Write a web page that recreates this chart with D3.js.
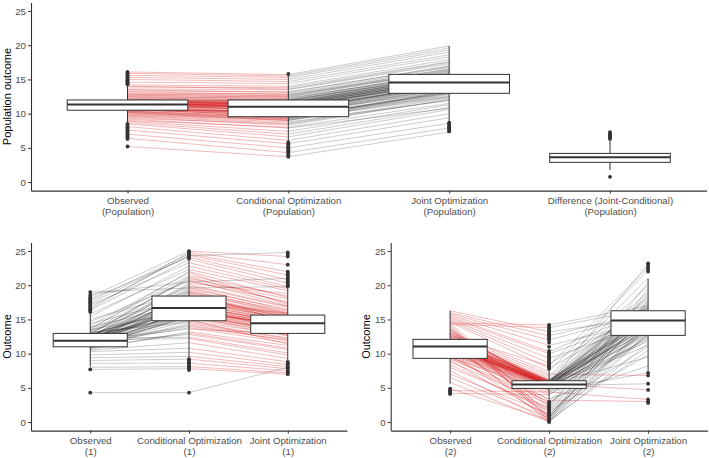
<!DOCTYPE html>
<html><head><meta charset="utf-8">
<script src="https://cdn.jsdelivr.net/npm/d3@7"></script>
<style>body{margin:0;background:#fff} text{font-family:"Liberation Sans",Arial,sans-serif}</style>
</head><body><svg id="c" width="709" height="458"></svg>
<script>
// ---------- Top panel (Population) ----------
const popCategories = ["Observed|(Population)", "Conditional Optimization|(Population)", "Joint Optimization|(Population)", "Difference (Joint-Conditional)|(Population)"];
const popObserved = [5.2,6.4,7.0,7.6,8.1,8.5,8.9,9.2,9.5,9.7,9.9,10.1,10.2,10.3,10.4,10.9,10.6,10.65,10.7,10.8,10.85,10.5,11.0,11.05,11.1,11.15,11.2,11.25,11.3,11.35,11.4,11.45,11.5,11.55,11.6,11.65,11.7,11.75,11.8,11.85,11.9,11.95,12.0,11.5,11.7,12.2,12.4,12.6,12.8,13.0,13.3,13.6,13.9,14.2,14.6,15.0,15.3,15.6,15.9,16.1,
  9.0,9.3,9.6,9.8,10.0,10.2,10.35,10.45,10.55,10.75,10.95,11.05,11.2,11.3,11.4,11.5,11.6,11.7,11.8,11.9,12.0,12.1,12.3,12.5,12.7,12.9,13.2,13.5,14.0,8.7];
const popConditional = [3.7,4.3,5.0,5.6,6.1,6.6,7.4,7.9,8.3,8.8,9.1,9.3,9.0,9.6,9.5,9.8,9.7,10.1,9.55,10.3,10.0,10.4,10.6,10.2,10.7,10.9,10.5,11.0,10.8,11.1,11.0,11.2,11.3,11.1,11.4,11.5,11.3,11.6,11.7,11.5,11.8,11.9,12.0,10.9,11.4,12.1,12.3,12.5,12.7,12.9,13.2,13.5,13.8,14.0,14.4,14.7,15.0,15.3,15.5,15.7,
  8.0,8.5,8.6,9.0,9.2,9.4,9.3,9.9,10.0,10.2,10.1,10.5,10.6,10.9,10.8,11.2,11.0,11.5,11.3,11.6,11.7,11.9,12.0,12.2,12.4,12.6,12.8,13.1,13.6,7.0];
const popJoint = [7.3,7.9,8.6,9.4,10.0,10.6,11.3,10.8,12.1,11.9,12.4,12.9,13.3,12.6,13.0,13.5,13.1,13.8,13.0,14.0,13.6,14.2,13.9,14.4,14.1,14.6,14.3,14.8,14.5,15.0,14.6,14.9,15.2,14.7,15.1,15.4,14.8,15.5,15.3,15.0,15.7,15.6,15.9,14.5,15.2,16.1,15.8,16.4,16.2,16.8,16.9,17.3,17.6,17.9,18.3,18.6,19.0,19.3,19.6,19.9,
  11.5,12.0,12.3,12.8,12.5,13.2,13.4,13.7,13.3,14.0,13.8,14.4,14.2,14.7,14.3,15.0,14.6,15.3,14.9,15.4,15.6,15.8,15.5,16.0,16.3,16.6,16.5,17.0,17.5,10.9];
const popWhiskerLow = [8.3, 6.0, 8.8, 1.75];
const popQ1 = [10.5, 9.55, 12.97, 2.88];
const popMedian = [11.35, 11.0, 14.57, 3.61];
const popQ3 = [12.0, 12.0, 15.74, 4.19];
const popWhiskerHigh = [14.2, 15.6, 19.9, 6.1];
const popOutliers = [
  [14.3,14.4,14.6,14.7,14.9,15.0,15.2,15.3,15.5,15.6,15.8,15.9,16.1,8.5,8.4,8.2,8.0,7.9,7.7,7.5,7.4,7.2,7.0,6.9,6.7,6.5,6.3,5.2],
  [15.8,5.8,5.6,5.5,5.3,5.1,5.0,4.8,4.6,4.5,4.3,4.1,3.9,3.7],
  [8.7,8.5,8.4,8.2,8.0,7.9,7.7,7.5,7.4],
  [6.3,6.5,6.6,6.8,6.9,7.1,7.3,0.77]
];

// ---------- Bottom-left panel (1) ----------
const cat1 = ["Observed|(1)", "Conditional Optimization|(1)", "Joint Optimization|(1)"];
const obs1 = [4.3,7.7,8.0,8.6,9.0,9.4,9.8,10.3,10.5,12.3,10.8,11.9,11.0,13.1,11.2,11.6,12.8,11.0,11.4,12.05,10.9,11.7,13.5,11.1,12.4,11.85,10.7,12.9,11.55,12.0,11.3,13.9,11.75,12.6,11.5,14.4,12.1,11.95,12.2,12.7,15.0,11.8,13.3,12.5,14.7,12.96,13.7,14.1,15.8,15.4,17.1,16.3,18.0,16.8,17.7,16.5,18.3,17.4,18.7,19.0,
  10.6,11.0,11.3,11.5,11.7,11.8,11.9,12.0,12.1,12.2,12.3,12.4,12.5,12.6,12.7,12.8,12.9,13.0,13.2,13.4,11.1,11.4,11.6,12.0,11.2,11.9,12.5,13.6,10.9,12.2];
const cond1 = [4.3,7.8,8.1,8.6,9.2,9.6,10.2,10.8,11.6,12.4,13.0,13.6,14.2,14.6,14.8,15.0,15.3,15.5,15.7,15.9,16.0,16.2,16.3,16.4,16.5,16.6,16.7,16.8,16.9,17.0,17.1,17.3,17.5,17.7,17.9,18.1,18.3,18.4,18.5,18.8,19.1,19.5,19.9,20.3,20.6,21.0,21.4,21.8,22.3,22.8,23.3,23.8,24.1,24.4,24.6,24.8,25.0,24.3,20.5,19.6,
  13.2,15.4,16.1,17.4,14.0,18.6,16.9,15.2,19.3,17.8,16.4,20.1,15.8,18.2,17.2,21.2,16.6,19.7,18.9,20.8,14.4,13.8,12.8,12.2,17.6,18.0,19.0,22.0,15.6,16.0];
const joint1 = [8.0,7.0,7.2,7.5,7.8,8.1,8.4,8.8,9.3,10.1,10.8,12.9,11.9,12.3,12.7,11.4,13.0,13.2,13.4,14.4,13.5,13.8,14.0,14.1,13.9,14.3,13.6,14.2,14.5,14.6,14.4,14.8,15.9,15.0,15.1,15.3,15.5,15.6,15.7,14.7,16.2,16.5,16.8,18.8,17.6,18.0,18.4,17.2,19.2,19.5,19.8,20.3,20.8,21.5,22.0,23.0,24.2,24.8,21.0,19.8,
  11.2,12.8,13.6,14.6,12.0,15.2,14.0,12.6,16.0,14.9,13.7,16.9,13.1,15.4,14.3,17.4,13.9,16.3,15.8,17.0,12.2,11.6,10.6,9.8,14.7,15.0,15.9,18.2,13.3,13.2];
const whiskerLow1 = [8.1, 9.4, 9.0];
const q1_1 = [11.0, 14.81, 12.96];
const median1 = [11.9, 16.67, 14.43];
const q3_1 = [12.96, 18.42, 15.64];
const whiskerHigh1 = [15.9, 23.8, 19.6];
const outliers1 = [
  [16.1,16.3,16.5,16.7,16.9,17.1,17.3,17.5,17.7,17.9,18.1,18.3,18.6,19.0,7.7,4.3],
  [23.9,24.1,24.3,24.5,24.7,24.9,25.0,9.2,9.0,8.8,8.6,8.4,8.2,8.0,7.8,7.6,4.3],
  [19.8,20.0,20.2,20.4,20.6,20.8,21.0,21.2,21.4,21.6,21.8,22.0,23.0,24.2,24.5,24.8,8.8,8.6,8.4,8.2,8.0,7.8,7.6,7.4,7.2,7.0]
];

// ---------- Bottom-right panel (2) ----------
const cat2 = ["Observed|(2)", "Conditional Optimization|(2)", "Joint Optimization|(2)"];
const obs2 = [4.2,4.6,4.9,5.8,6.5,7.0,7.5,8.0,8.4,8.8,9.0,9.2,9.3,9.5,9.7,9.9,10.1,10.3,10.5,10.6,10.7,10.8,10.9,11.0,11.06,11.1,11.2,11.3,11.4,11.5,11.6,11.7,11.8,11.9,12.0,12.09,12.3,12.5,12.8,13.0,13.2,13.4,13.6,13.8,14.0,14.2,14.4,14.6,14.8,15.0,15.2,15.4,15.6,15.8,16.0,16.27,14.3,14.5,12.6,11.8,
  9.4,9.8,10.0,10.2,10.4,10.6,10.8,11.0,11.1,11.2,11.3,11.5,11.6,11.8,12.0,12.1,12.3,12.5,12.7,12.9,10.1,11.4,12.4,13.1,9.6,10.7,11.9,13.5,10.9,11.7];
const cond2 = [4.0,4.4,0.3,0.0,0.6,1.2,0.1,2.0,1.6,2.6,0.8,3.0,3.4,4.0,4.3,4.6,4.8,4.9,5.0,5.1,5.2,5.3,5.35,5.4,5.45,5.5,5.55,5.6,5.7,5.75,5.8,5.9,6.0,6.04,6.1,6.2,6.4,6.7,7.0,7.4,5.6,5.3,5.0,0.2,0.5,1.0,2.3,7.9,8.6,9.3,10.0,10.3,11.2,12.0,12.6,13.2,13.8,14.2,8.2,3.2,
  4.7,5.0,5.2,5.4,5.6,5.7,5.8,5.9,6.0,5.1,5.3,5.5,5.7,5.9,6.1,5.2,5.4,5.6,5.8,6.0,0.4,0.9,1.5,2.1,1.9,2.8,0.0,0.7,5.5,5.4];
const joint2 = [12.0,3.3,10.5,11.5,13.0,14.2,12.8,15.5,9.8,16.8,14.0,17.5,8.2,12.4,13.2,7.2,13.6,14.5,12.7,15.0,14.1,15.6,13.4,16.0,14.8,15.3,4.7,16.3,14.9,17.2,13.8,18.0,15.4,16.6,19.0,14.6,20.0,21.0,6.8,22.2,23.1,5.6,18.5,17.8,19.5,16.9,20.4,15.8,16.2,14.3,15.1,16.4,14.7,15.9,16.1,15.2,16.6,17.0,22.6,3.0,
  12.2,13.1,14.4,11.8,15.2,13.6,16.4,14.0,17.0,12.9,15.7,13.9,16.8,15.0,18.2,14.6,16.2,13.3,17.6,15.5,13.8,15.9,17.3,18.8,11.0,12.6,14.7,16.0,9.5,11.2];
const whiskerLow2 = [5.6, 3.3, 7.5];
const q1_2 = [9.31, 4.92, 12.67];
const median2 = [11.06, 5.5, 14.86];
const q3_2 = [12.09, 6.04, 16.27];
const whiskerHigh2 = [16.27, 7.6, 21.0];
const outliers2 = [
  [4.9,4.7,4.5,4.3,4.1],
  [7.8,8.0,8.2,8.4,8.6,8.8,9.0,9.2,9.4,9.6,9.8,10.0,10.2,10.4,11.0,11.6,12.0,12.2,12.4,12.6,12.8,13.0,13.2,13.4,13.6,13.8,14.0,14.2,3.0,2.8,2.6,2.4,2.2,2.0,1.8,1.6,1.4,1.2,1.0,0.8,0.6,0.4,0.2,0.0],
  [22.0,22.3,22.6,23.0,23.2,7.2,6.8,5.6,4.7,3.3,3.0,2.8]
];

const yTicks = [0,5,10,15,20,25];

const svg = d3.select("#c");
const INK = "#333333";

function drawPanel(p) {
  const g = svg.append("g");
  const x = d3.scalePoint().domain(p.cats).range([p.x0, p.x1]).padding(0.6);
  const y = d3.scaleLinear().domain([-1.25, 26.25]).range([p.yBot, p.yTop]);
  const bw = x.step() * 0.75;

  // individual lines
  const lg = g.append("g");
  for (let j = 0; j < p.series.length - 1; j++) {
    const a = p.series[j], b = p.series[j + 1];
    a.forEach((v, i) => {
      const dec = b[i] < v;
      lg.append("line")
        .attr("x1", x(p.cats[j])).attr("y1", y(v))
        .attr("x2", x(p.cats[j + 1])).attr("y2", y(b[i]))
        .attr("stroke", dec ? "#d00000" : "#000000")
        .attr("stroke-opacity", dec ? 0.36 : 0.27)
        .attr("stroke-width", 0.75);
    });
  }

  // boxes
  p.cats.forEach((c, k) => {
    const cx = x(c);
    g.append("line").attr("x1", cx).attr("x2", cx)
      .attr("y1", y(p.wl[k])).attr("y2", y(p.q1[k])).attr("stroke", INK).attr("stroke-width", 1);
    g.append("line").attr("x1", cx).attr("x2", cx)
      .attr("y1", y(p.q3[k])).attr("y2", y(p.wh[k])).attr("stroke", INK).attr("stroke-width", 1);
    g.append("rect").attr("x", cx - bw / 2).attr("width", bw)
      .attr("y", y(p.q3[k])).attr("height", y(p.q1[k]) - y(p.q3[k]))
      .attr("fill", "#fff").attr("stroke", INK).attr("stroke-width", 1);
    g.append("line").attr("x1", cx - bw / 2).attr("x2", cx + bw / 2)
      .attr("y1", y(p.med[k])).attr("y2", y(p.med[k])).attr("stroke", INK).attr("stroke-width", 2);
    g.selectAll(null).data(p.out[k]).enter().append("circle")
      .attr("cx", cx).attr("cy", d => y(d)).attr("r", 1.9).attr("fill", INK);
  });

  // axes
  const ya = g.append("g").attr("transform", `translate(${p.x0},0)`)
    .call(d3.axisLeft(y).tickValues(yTicks).tickSize(3).tickPadding(2).tickSizeOuter(0));
  const xa = g.append("g").attr("transform", `translate(0,${p.yBot})`)
    .call(d3.axisBottom(x).tickSize(3).tickPadding(3.4).tickSizeOuter(0));
  [ya, xa].forEach(a => {
    a.select(".domain").attr("stroke", INK).attr("stroke-width", 1.1);
    a.selectAll(".tick line").attr("stroke", INK).attr("stroke-width", 1);
    a.selectAll(".tick text").attr("fill", "#4d4d4d").attr("font-size", "9.7px")
      .attr("font-family", '"Liberation Sans", Arial, sans-serif');
  });
  xa.selectAll(".tick text").each(function (d) {
    const t = d3.select(this); const parts = d.split("|");
    t.text(null);
    parts.forEach((s, i) => t.append("tspan").attr("x", 0).attr("dy", i === 0 ? "0.71em" : "1.15em").text(s));
  });
  xa.selectAll(".tick text").attr("dy", null);

  g.append("text").attr("transform", `translate(${p.titleX},${(p.yTop + p.yBot) / 2}) rotate(-90)`)
    .attr("text-anchor", "middle").attr("font-size", "11px").attr("fill", "#000").text(p.title);
}

drawPanel({ cats: popCategories, x0: 31, x1: 706.5, yTop: 2.5, yBot: 190.6, title: "Population outcome", titleX: 11,
  series: [popObserved, popConditional, popJoint],
  wl: popWhiskerLow, q1: popQ1, med: popMedian, q3: popQ3, wh: popWhiskerHigh, out: popOutliers });
drawPanel({ cats: cat1, x0: 31, x1: 347, yTop: 242.5, yBot: 430.6, title: "Outcome", titleX: 11,
  series: [obs1, cond1, joint1],
  wl: whiskerLow1, q1: q1_1, med: median1, q3: q3_1, wh: whiskerHigh1, out: outliers1 });
drawPanel({ cats: cat2, x0: 390.7, x1: 707.5, yTop: 242.5, yBot: 430.6, title: "Outcome", titleX: 370,
  series: [obs2, cond2, joint2],
  wl: whiskerLow2, q1: q1_2, med: median2, q3: q3_2, wh: whiskerHigh2, out: outliers2 });
</script></body></html>
